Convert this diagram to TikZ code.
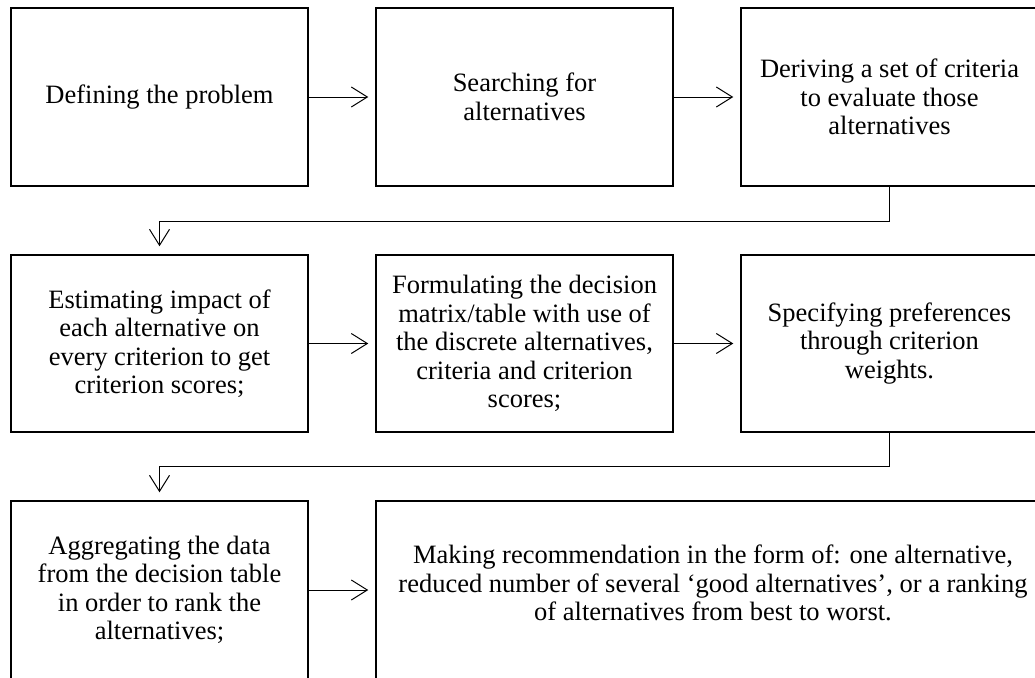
\documentclass[tikz,border=0pt]{standalone}
\usepackage{fontspec}
\setmainfont{Liberation Serif}
\usetikzlibrary{arrows.meta}
\begin{document}
\begin{tikzpicture}[x=1pt,y=-1pt,
  stepbox/.style={draw=black,line width=1.5pt,rectangle,minimum width=297pt,minimum height=178pt,inner sep=0pt,align=center,font=\fontsize{26.5}{28.5}\selectfont},
  boxtext/.style={inner sep=0pt,align=center,font=\fontsize{26.5}{28.5}\selectfont},
  conn/.style={draw=black,line width=1pt,-{Straight Barb[length=16pt,width=20pt,line width=1pt]}},
]
\useasboundingbox (0,0) rectangle (1035,677);
\clip (0,0) rectangle (1035,677);
% row 1
\node[stepbox] (b1) at (159.5,97) {Defining the problem};
\node[stepbox] (b2) at (524.5,97) {Searching for\\alternatives};
\node[stepbox] (b3) at (889.5,97) {Deriving a set of criteria\\to evaluate those\\alternatives};
% row 2
\node[stepbox,minimum height=177pt] (b4) at (159.5,343.5) {Estimating impact of\\each alternative on\\every criterion to get\\criterion scores;};
\node[stepbox,minimum height=177pt] (b5) at (524.5,343.5) {Formulating the decision\\matrix/table with use of\\the discrete alternatives,\\criteria and criterion\\scores;};
\node[stepbox,minimum height=177pt] (b6) at (889.5,343.5) {Specifying preferences\\through criterion\\weights.};
% row 3
\node[stepbox] (b7) at (159.5,590) {Aggregating the data\\from the decision table\\in order to rank the\\alternatives;};
\node[stepbox,minimum width=674pt] (b8) at (713,590) {};
\node[boxtext] (t8) at ([yshift=7pt]b8.center) {Making recommendation in the form of: one alternative,\\reduced number of several `good alternatives', or a ranking\\of alternatives from best to worst.};
% connectors
\draw[conn,shorten >=7pt] (b1.east) -- (b2.west);
\draw[conn,shorten >=7pt] (b2.east) -- (b3.west);
\draw[conn,shorten >=7pt] (b4.east) -- (b5.west);
\draw[conn,shorten >=7pt] (b5.east) -- (b6.west);
\draw[conn,shorten >=7pt] (b7.east) -- (b8.west);
\coordinate (k1) at ([yshift=-35pt]b3.south);
\draw[conn,shorten >=8pt] (b3.south) -- (k1) -| (b4.north);
\coordinate (k2) at ([yshift=-34pt]b6.south);
\draw[conn,shorten >=8pt] (b6.south) -- (k2) -| (b7.north);
\end{tikzpicture}
\end{document}
